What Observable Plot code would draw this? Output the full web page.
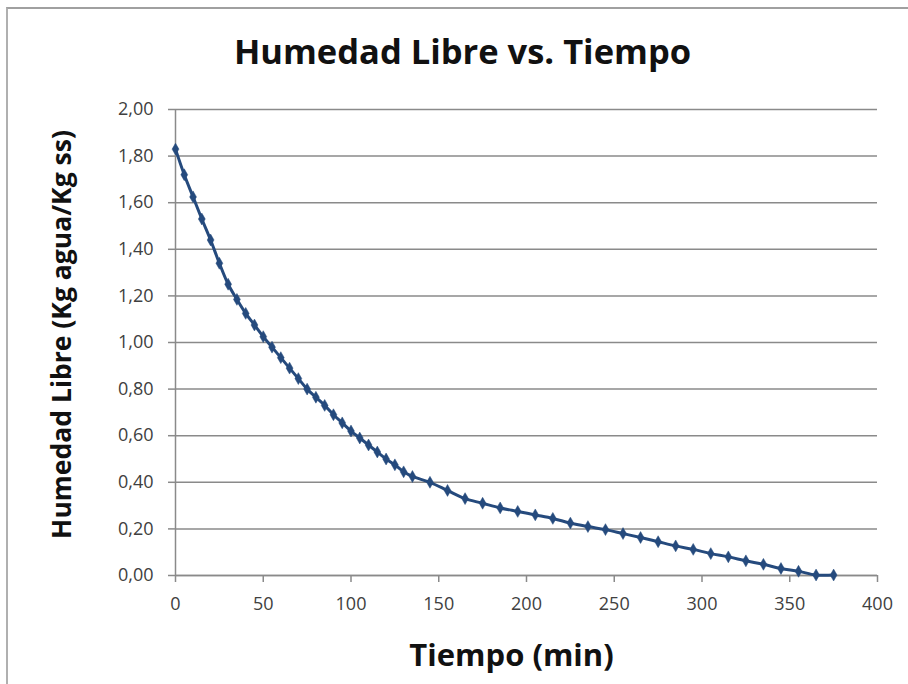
<!DOCTYPE html>
<html>
<head>
<meta charset="utf-8">
<script src="https://cdn.jsdelivr.net/npm/d3@7"></script>
<script src="https://cdn.jsdelivr.net/npm/@observablehq/plot@0.6"></script>
<style>
  html, body { margin: 0; padding: 0; background: #fff; }
  #wrap { position: relative; width: 908px; height: 684px; overflow: hidden; background: #fff; }
  #frame { position: absolute; left: 6px; top: 7px; width: 1000px; height: 1000px;
           border-top: 2px solid #a0a0a0; border-left: 2px solid #b0b0b0; }
  #chart { position: absolute; left: 0; top: 0; }
</style>
</head>
<body>
<div id="wrap"><div id="frame"></div><div id="chart"></div></div>
<script>
const title = "Humedad Libre vs. Tiempo";
const xLabel = "Tiempo (min)";
const yLabel = "Humedad Libre (Kg agua/Kg ss)";
const xTicks = [0, 50, 100, 150, 200, 250, 300, 350, 400];
const yTicks = [0, 0.2, 0.4, 0.6, 0.8, 1.0, 1.2, 1.4, 1.6, 1.8, 2.0];

const tiempo = [0, 5, 10, 15, 20, 25, 30, 35, 40, 45, 50, 55, 60, 65, 70, 75, 80, 85, 90, 95,
  100, 105, 110, 115, 120, 125, 130, 135, 145, 155, 165, 175, 185, 195, 205, 215, 225, 235,
  245, 255, 265, 275, 285, 295, 305, 315, 325, 335, 345, 355, 365, 375];
const humedad = [1.83, 1.72, 1.625, 1.53, 1.44, 1.34, 1.25, 1.185, 1.125, 1.075, 1.025, 0.98,
  0.935, 0.89, 0.845, 0.80, 0.765, 0.73, 0.69, 0.655, 0.62, 0.59, 0.56, 0.53, 0.50, 0.475,
  0.445, 0.425, 0.40, 0.365, 0.33, 0.31, 0.29, 0.275, 0.26, 0.245, 0.225, 0.21, 0.197, 0.18,
  0.163, 0.145, 0.127, 0.112, 0.094, 0.08, 0.063, 0.048, 0.03, 0.018, 0.002, 0.002];

const data = tiempo.map((t, i) => ({t, h: humedad[i]}));
const fmt = d => d.toFixed(2).replace(".", ",");
const lineColor = "#254a7d";
const gridColor = "#8a8a8a";
const font = "'Open Sans', Lato, sans-serif";

const chart = Plot.plot({
  width: 908,
  height: 684,
  marginLeft: 175,
  marginRight: 31,
  marginTop: 109,
  marginBottom: 109,
  style: {background: "transparent", fontFamily: font, overflow: "visible"},
  x: {domain: [0, 400], ticks: xTicks},
  y: {domain: [0, 2], ticks: yTicks},
  marks: [
    Plot.gridY(yTicks, {stroke: gridColor, strokeOpacity: 1, strokeWidth: 1.5}),
    Plot.axisX(xTicks, {tickSize: 7, tickPadding: 15, stroke: gridColor, strokeWidth: 1.5,
      fontSize: 18, fill: "#404040", label: null}),
    Plot.axisY(yTicks, {tickSize: 7, tickPadding: 15, stroke: gridColor, strokeWidth: 1.5,
      fontSize: 18, fill: "#404040", tickFormat: fmt, label: null}),
    Plot.ruleX([0], {stroke: gridColor, strokeWidth: 1.5}),
    Plot.ruleY([0], {stroke: gridColor, strokeWidth: 1.5}),
    Plot.line(data, {x: "t", y: "h", stroke: lineColor, strokeWidth: 3, curve: "catmull-rom"}),
    Plot.dot(data, {x: "t", y: "h", symbol: "diamond", r: 3.6, fill: lineColor, stroke: lineColor, strokeWidth: 0.5}),
    Plot.text([title], {frameAnchor: "top", lineAnchor: "middle", textAnchor: "middle", dx: -64, dy: -57,
      fontSize: 34.5, fontWeight: "bold", fill: "#111"}),
    Plot.text([xLabel], {frameAnchor: "bottom", lineAnchor: "middle", textAnchor: "middle", dx: -15, dy: 81,
      fontSize: 31, fontWeight: "bold", fill: "#111"}),
    Plot.text([yLabel], {frameAnchor: "left", lineAnchor: "middle", textAnchor: "middle", dx: -113, dy: -8,
      rotate: -90, fontSize: 26.5, fontWeight: "bold", fill: "#111"})
  ]
});
document.getElementById("chart").appendChild(chart);
</script>
</body>
</html>
